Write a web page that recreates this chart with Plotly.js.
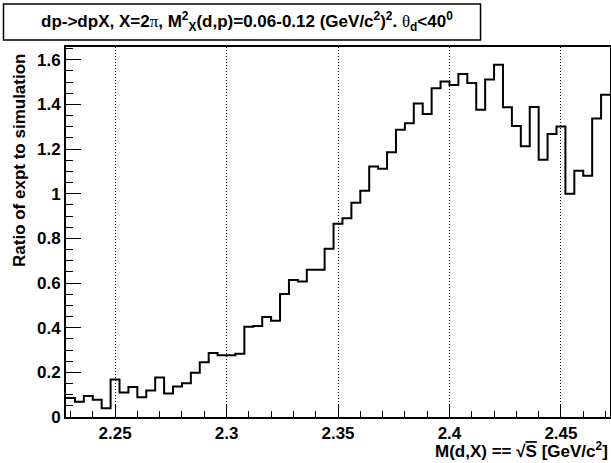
<!DOCTYPE html>
<html>
<head>
<meta charset="utf-8">
<script src="https://cdn.plot.ly/plotly-3.0.1.min.js"></script>
<style>
  html, body { margin: 0; padding: 0; background: #fff; }
  #plot { width: 611px; height: 463px; }
</style>
</head>
<body>
<div id="plot"></div>
<script>
// Binning of the M(d,X) histogram
const binLow = 2.228;
const binWidth = 0.004;

// Ratio of experiment to simulation, one value per bin
const ratio = [
  0.085, 0.068, 0.094, 0.077, 0.039, 0.168, 0.110, 0.134, 0.088, 0.119,
  0.177, 0.105, 0.137, 0.151, 0.198, 0.245, 0.287, 0.277, 0.276, 0.283,
  0.404, 0.407, 0.448, 0.431, 0.551, 0.613, 0.607, 0.660, 0.660, 0.753,
  0.865, 0.890, 0.960, 1.013, 1.122, 1.112, 1.186, 1.286, 1.316, 1.404,
  1.357, 1.472, 1.503, 1.487, 1.536, 1.496, 1.376, 1.512, 1.578, 1.387,
  1.303, 1.212, 1.388, 1.152, 1.267, 1.301, 1.000, 1.103, 1.080, 1.337,
  1.443
];

// Axis tick labels
const xTickVals = [2.25, 2.3, 2.35, 2.4, 2.45];
const xTickText = ['2.25', '2.3', '2.35', '2.4', '2.45'];
const yTickVals = [0, 0.2, 0.4, 0.6, 0.8, 1.0, 1.2, 1.4, 1.6];
const yTickText = ['0', '0.2', '0.4', '0.6', '0.8', '1', '1.2', '1.4', '1.6'];

// Step outline: bin edges, last value repeated to close the final bin
const edges = [];
const steps = [];
for (let i = 0; i <= ratio.length; i++) {
  edges.push(binLow + i * binWidth);
  steps.push(ratio[Math.min(i, ratio.length - 1)]);
}

const FONT = 'Liberation Sans, Arial, Helvetica, sans-serif';
const bold = (size) => ({ family: FONT, size: size, color: '#000', weight: 700 });
const sym = (ch) => '<span style="font-family:Liberation Serif,serif;font-weight:normal">' + ch + '</span>';

const trace = {
  x: edges,
  y: steps,
  type: 'scatter',
  mode: 'lines',
  line: { shape: 'hv', color: '#000', width: 2 },
  hoverinfo: 'skip'
};

const layout = {
  width: 611,
  height: 463,
  margin: { l: 66, r: 1, t: 47, b: 46 },
  paper_bgcolor: '#fff',
  plot_bgcolor: '#fff',
  showlegend: false,
  xaxis: {
    range: [2.228, 2.472],
    tickmode: 'array',
    tickvals: xTickVals,
    ticktext: xTickText,
    ticks: 'inside',
    ticklen: 12,
    tickwidth: 1,
    tickcolor: '#000',
    tickfont: bold(17),
    ticklabelstandoff: 0,
    showline: true,
    mirror: true,
    linecolor: '#000',
    linewidth: 2,
    showgrid: true,
    griddash: '1px,2px',
    gridcolor: '#000',
    gridwidth: 1,
    zeroline: false,
    minor: { tickmode: 'linear', tick0: 2.23, dtick: 0.01, ticks: 'inside', ticklen: 6, tickwidth: 1, tickcolor: '#000', showgrid: false }
  },
  yaxis: {
    range: [0, 1.657],
    tickmode: 'array',
    tickvals: yTickVals,
    ticktext: yTickText,
    ticks: 'inside',
    ticklen: 15,
    tickwidth: 1,
    tickcolor: '#000',
    tickfont: bold(17),
    showline: true,
    mirror: true,
    linecolor: '#000',
    linewidth: 2,
    showgrid: false,
    zeroline: false,
    minor: { tickmode: 'linear', tick0: 0, dtick: 0.05, ticks: 'inside', ticklen: 7, tickwidth: 1, tickcolor: '#000', showgrid: false }
  },
  shapes: [
    // frame of the title
    {
      type: 'rect', xref: 'paper', yref: 'paper',
      x0: -0.1149, x1: 0.762, y0: 1.0189, y1: 1.1162,
      line: { color: '#000', width: 1.5 }, fillcolor: '#fff', layer: 'above'
    }
  ],
  annotations: [
    {
      xref: 'paper', yref: 'paper', x: 0.318, y: 1.0676, xshift: 8,
      xanchor: 'center', yanchor: 'middle', showarrow: false,
      font: bold(17),
      text: 'dp-&gt;dpX, X=2' + sym('π') + ', M<sup>2</sup><sub>X</sub>(d,p)=0.06-0.12 (GeV/c<sup>2</sup>)<sup>2</sup>. ' +
            sym('θ') + '<sub>d</sub>&lt;40<sup>0</sup>'
    },
    {
      xref: 'paper', yref: 'paper', x: -0.0855, y: 1, yshift: -5,
      xanchor: 'center', yanchor: 'top', showarrow: false, textangle: -90,
      font: bold(17),
      text: 'Ratio of expt to simulation'
    },
    {
      xref: 'paper', yref: 'paper', x: 1, y: -0.088, xshift: 0,
      xanchor: 'right', yanchor: 'middle', showarrow: false,
      font: bold(17),
      text: 'M(d,X) == √<span style="text-decoration:overline">S</span> [GeV/c<sup>2</sup>]'
    }
  ]
};

Plotly.newPlot('plot', [trace], layout, { staticPlot: true, displayModeBar: false });
</script>
</body>
</html>
